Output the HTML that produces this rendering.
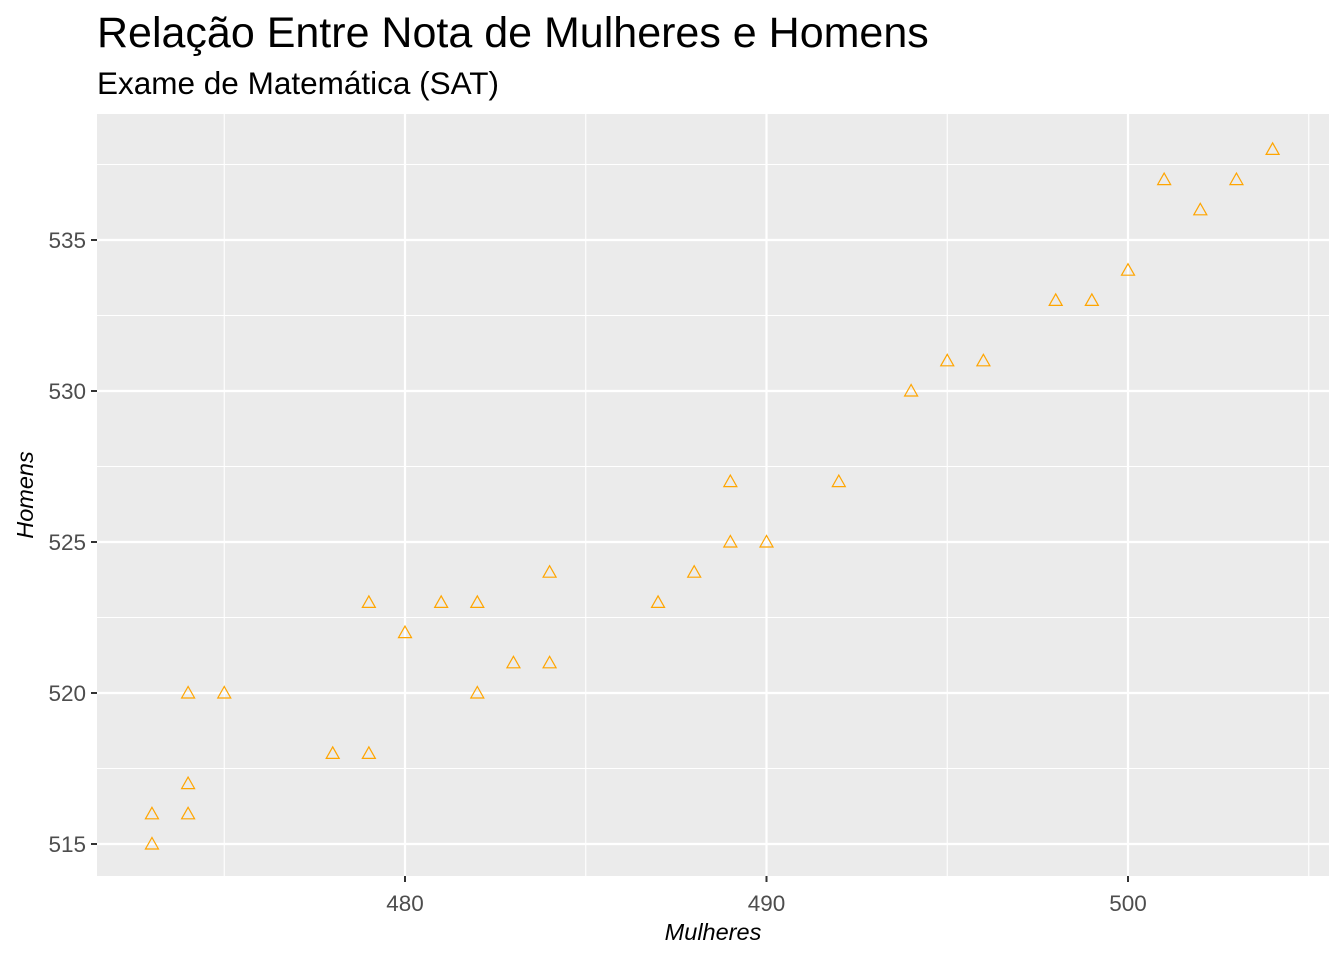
<!DOCTYPE html>
<html><head><meta charset="utf-8">
<style>
html,body{margin:0;padding:0;background:#fff;}
svg{display:block;font-family:"Liberation Sans",Arial,sans-serif;}
</style></head>
<body>
<svg id="chart" width="1344" height="960" viewBox="0 0 1344 960">
<text x="97" y="47" font-size="43" fill="#000">Relação Entre Nota de Mulheres e Homens</text>
<text x="97" y="94" font-size="31.5" fill="#000">Exame de Matemática (SAT)</text>
<rect x="97" y="114" width="1232" height="762" fill="#EBEBEB"/>
<g id="grid"></g>
<g id="points"></g>
<g id="axes"></g>
<text x="713" y="940" font-size="23.5" font-style="italic" text-anchor="middle" fill="#000">Mulheres</text>
<text transform="translate(33,495) rotate(-90)" font-size="23.5" font-style="italic" text-anchor="middle" fill="#000">Homens</text>
</svg>
<script>
const womenScores=[473,473,474,474,474,475,478,479,479,480,481,482,482,483,484,484,487,488,489,489,490,492,494,495,496,498,499,500,501,502,503,504];
const menScores=[516,515,520,517,516,520,518,523,518,522,523,523,520,521,524,521,523,524,527,525,525,527,530,531,531,533,533,534,537,536,537,538];
const xTicks=[480,490,500];
const xMinor=[475,485,495,505];
const yTicks=[515,520,525,530,535];
const yMinor=[517.5,522.5,527.5,532.5,537.5];
const NS="http://www.w3.org/2000/svg";
const X0=97,X1=1329,Y0=114,Y1=876;
function xs(v){return 405+(v-480)*36.15;}
function ys(v){return 391-(v-530)*30.2;}
function mk(tag,attrs,parent){const e=document.createElementNS(NS,tag);for(const k in attrs)e.setAttribute(k,attrs[k]);parent.appendChild(e);return e;}
const grid=document.getElementById('grid'),pts=document.getElementById('points'),axes=document.getElementById('axes');
xMinor.forEach(v=>{const l=mk('line',{x1:xs(v),x2:xs(v),y1:Y0,y2:Y1,stroke:'#fff','stroke-width':1.1},grid);

});
yMinor.forEach(v=>{const l=mk('line',{x1:X0,x2:X1,y1:ys(v),y2:ys(v),stroke:'#fff','stroke-width':1.1},grid);

});
xTicks.forEach(v=>{const l=mk('line',{x1:xs(v),x2:xs(v),y1:Y0,y2:Y1,stroke:'#fff','stroke-width':2.2},grid);


const t=mk('line',{x1:xs(v),x2:xs(v),y1:Y1,y2:Y1+6,stroke:'#333','stroke-width':2},axes);


const tx=mk('text',{x:xs(v),y:Y1+35,'font-size':22.5,'text-anchor':'middle',fill:'#4D4D4D'},axes);tx.textContent=v;

});
yTicks.forEach(v=>{const l=mk('line',{x1:X0,x2:X1,y1:ys(v),y2:ys(v),stroke:'#fff','stroke-width':2.2},grid);


const t=mk('line',{x1:X0-6,x2:X0,y1:ys(v),y2:ys(v),stroke:'#333','stroke-width':2},axes);


const tx=mk('text',{x:X0-11,y:ys(v)+8,'font-size':22.5,'text-anchor':'end',fill:'#4D4D4D'},axes);tx.textContent=v;

});
womenScores.forEach((w,i)=>{const cx=xs(w),cy=ys(menScores[i]);
const p=mk('polygon',{points:`${cx},${cy-6.5} ${cx-6.5},${cy+5} ${cx+6.5},${cy+5}`,fill:'none',stroke:'#FFA500','stroke-width':1.2},pts);

});
</script>
</body></html>
